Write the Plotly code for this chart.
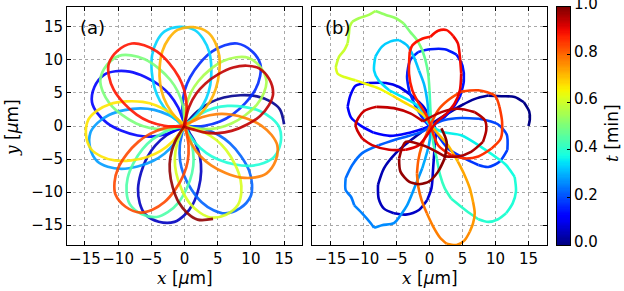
import numpy as np
import plotly.graph_objects as go

# ---------------- panel (a): petals ----------------
# petal axis direction (deg) and tip distance, in time order
petal_angle = [1, -105, 156.5, 48.5, -56, -167, 93, -10, -116, 142, 38, -65, -175, 85, -21, -126, 131.5, 29, -73]
petal_len = [15.0, 15.0, 14.8, 15.2, 15.0, 14.6, 15.0, 14.7, 14.8, 14.9, 14.5, 14.8, 14.9, 15.0, 14.7, 15.1, 15.2, 14.6, 14.7]
# petal outline (read from the top orange petal), along / across its axis
petal_u = [0, 1, 2, 4, 6, 8.5, 11, 13, 14.4, 15, 14.4, 13, 11, 8.5, 6, 4, 2, 1, 0]
petal_v = [0, -1.2, -2.2, -3.5, -4.2, -4.5, -4.3, -3.5, -2.3, 0, 2.3, 3.5, 4.3, 4.5, 4.2, 3.5, 2.2, 1.2, 0]

# ---------------- panel (b): trajectory ----------------
bx = [15.0, 15.2, 15.1, 14.3, 12.9, 10.9, 8.9, 6.9, 4.8, 2.3, 0.3,
      -1.2, -2.9, -5.1, -6.9, -7.8, -7.7, -6.9, -5.4, -3.6, -1.6, -0.35, 0.3, 0.55, 0.8, 0.9,
      -0.9, -2.6, -4.6, -6.6, -9.2, -11.2, -12.0, -12.4, -11.9, -10.5, -8.5, -6.0, -3.4, -1.0,
      1.3, 3.3, 4.6, 5.2, 5.0, 4.1, 2.3, 0.1, -1.7, -2.9, -3.4, -3.0, -1.9, -0.6,
      1.0, 2.8, 5.3, 7.4, 8.9, 10.6, 11.8, 11.7, 10.3, 7.5, 4.8, 2.3, 0.5,
      -1.1, -4.6, -7.7, -10.2, -11.7, -12.7, -12.7, -11.9, -11.4, -10.2, -8.9, -8.4, -7.2, -5.4, -4.4, -3.4, -2.1, -1.1, -0.1, 0.15,
      -0.1, -0.35, -0.85, -1.6, -2.4, -3.4, -4.6, -5.9, -7.2, -8.2, -8.4, -7.7, -6.1, -4.1, -1.6, -0.3,
      1.8, 4.8, 7.4, 9.9, 11.6, 12.9, 13.1, 12.6, 11.6, 10.4, 8.9, 7.4, 6.1, 4.8, 3.3, 2.3, 1.6, 1.1, 0.55,
      0.2, 0.0, -0.2, -0.6, -1.1, -1.9, -2.9, -3.9, -5.1, -6.6, -8.2, -9.2, -10.7, -11.7, -12.1, -12.2, -12.4, -12.9, -13.7, -14.2, -13.9, -12.9, -11.2, -9.7, -7.7, -5.6, -3.9, -2.1, -0.6,
      0.8, 2.8, 4.3, 5.3, 6.1, 6.6, 6.85, 6.6, 6.1, 5.3, 4.1, 2.6, 1.6, 0.6, -0.4, -1.2, -1.7, -1.9, -1.7, -1.2, -0.4,
      1.3, 2.8, 4.8, 7.4, 9.9, 10.6, 11.0, 10.8, 9.4, 7.4, 5.3, 3.3, 1.3,
      -0.35, -1.6, -2.6, -3.1, -3.0, -2.6, -1.1, 0.15, 1.3, 2.6, 3.6, 4.3, 4.6, 4.8, 4.6, 3.8, 2.6, 1.0,
      -1.6, -3.6, -6.1, -8.7, -10.2, -11.2, -10.0, -8.0, -5.4, -2.9, -1.0,
      1.8, 4.3, 6.85, 8.4, 8.6, 8.1, 6.3, 4.3, 2.3,
      -0.8, -3.6, -4.6, -4.4, -3.1, -1.6, -0.1, 1.3, 2.3, 2.6, 1.8]
by = [0.0, 1.0, 2.2, 3.6, 4.4, 4.5, 4.6, 4.1, 3.1, 1.6, 0.3,
      -0.9, -2.2, -4.1, -6.4, -8.9, -11.0, -12.5, -13.2, -13.4, -12.7, -11.2, -9.4, -6.4, -2.9, -0.5,
      2.9, 4.5, 5.9, 6.5, 6.5, 6.1, 4.6, 2.9, 1.3, 0.1, -1.0, -1.5, -1.1, -0.4,
      0.6, 2.4, 4.4, 6.8, 9.1, 10.8, 11.6, 11.6, 11.2, 10.0, 7.5, 5.0, 2.6, 0.6,
      -1.0, -3.4, -4.9, -5.9, -6.2, -5.4, -3.6, -1.3, 0.3, 1.1, 1.2, 0.9, 0.2,
      -0.85, -1.9, -2.9, -4.1, -5.9, -7.9, -9.7, -10.7, -12.0, -13.2, -14.7, -15.4, -15.0, -14.7, -13.5, -12.0, -8.9, -6.4, -2.9, -0.85,
      1.4, 3.9, 6.4, 8.4, 10.5, 12.2, 13.0, 12.8, 12.0, 10.5, 8.4, 6.9, 5.4, 4.4, 2.9, 0.5,
      -0.85, -1.4, -2.9, -4.6, -5.9, -7.7, -9.9, -11.7, -13.2, -14.1, -14.5, -14.1, -13.2, -12.2, -11.0, -9.4, -7.4, -4.9, -2.4,
      1.4, 5.4, 7.9, 9.9, 11.5, 13.0, 14.2, 15.5, 16.3, 16.8, 17.4, 16.8, 16.3, 15.8, 15.0, 14.0, 12.5, 11.5, 10.5, 8.9, 7.9, 7.4, 6.9, 6.4, 5.7, 4.6, 3.6, 2.6, 1.4,
      -0.6, -2.9, -5.4, -7.4, -9.4, -11.5, -13.2, -14.7, -16.0, -17.3, -18.0, -17.8, -16.9, -15.3, -13.2, -11.2, -9.2, -7.2, -5.2, -3.1, -1.1,
      2.4, 3.9, 5.2, 5.4, 4.6, 2.9, 0.6, -1.9, -3.4, -4.6, -4.9, -4.4, -2.9,
      1.4, 3.4, 5.4, 7.9, 11.2, 12.2, 13.2, 13.5, 14.4, 14.5, 13.6, 12.5, 10.5, 7.9, 5.4, 3.4, 1.9, 0.5,
      -2.9, -3.6, -3.6, -2.9, -1.9, 0.15, 2.2, 2.9, 2.7, 1.9, 0.7,
      2.1, 2.6, 2.1, 0.85, -0.6, -2.4, -3.9, -4.6, -4.6,
      -3.0, -2.4, -4.9, -6.9, -8.4, -8.8, -8.4, -6.9, -4.9, -2.4, -0.35]
b_loop_start = [0, 11, 26, 40, 54, 67, 87, 103, 122, 151, 172, 185, 203, 214, 223, 233]
b_loop_t = [0.0, 0.035, 0.085, 0.13, 0.17, 0.21, 0.30, 0.36, 0.43, 0.71, 0.83, 0.875, 0.92, 0.95, 0.97, 1.0]

tick_vals = [-15, -10, -5, 0, 5, 10, 15]
tick_text = ["\u221215", "\u221210", "\u22125", "0", "5", "10", "15"]
cbar_vals = [0.0, 0.2, 0.4, 0.6, 0.8, 1.0]
cbar_text = ["0.0", "0.2", "0.4", "0.6", "0.8", "1.0"]


def jet(t):
    r = np.interp(t, [0, 0.35, 0.66, 0.89, 1], [0, 0, 1, 1, 0.5])
    g = np.interp(t, [0, 0.125, 0.375, 0.64, 0.91, 1], [0, 0, 1, 1, 0, 0])
    b = np.interp(t, [0, 0.11, 0.34, 0.65, 1], [0.5, 1, 1, 0, 0])
    return "rgb(%d,%d,%d)" % (round(r * 255), round(g * 255), round(b * 255))


fig = go.Figure()

# panel (a)
n_p = len(petal_angle)
pu = np.array(petal_u)
pv = np.array(petal_v)
for k in range(n_p):
    c = np.deg2rad(petal_angle[k])
    s = petal_len[k] / 15.0
    xs = s * (pu * np.cos(c) - pv * np.sin(c))
    ys = s * (pu * np.sin(c) + pv * np.cos(c))
    if k == 0:
        xs, ys = xs[9:], ys[9:]
        tm = 0.25 / 18
    elif k == n_p - 1:
        xs, ys = xs[:10], ys[:10]
        tm = 1 - 0.25 / 18
    else:
        tm = k / 18
    fig.add_trace(go.Scatter(x=xs, y=ys, mode="lines",
                             line=dict(color=jet(tm), width=2.7, shape="spline", smoothing=1.0),
                             opacity=0.9, hoverinfo="skip", showlegend=False,
                             xaxis="x", yaxis="y"))

# panel (b)
bxa = np.array(bx)
bya = np.array(by)
seglen = np.hypot(np.diff(bxa), np.diff(bya))
sarc = np.concatenate([[0], np.cumsum(seglen)])
n = len(bxa)
tb = np.interp(sarc, sarc[np.array(b_loop_start)], np.array(b_loop_t))
step = 3
for i in range(0, n - 1, step):
    j = min(i + step + 1, n)
    fig.add_trace(go.Scatter(x=bxa[i:j], y=bya[i:j], mode="lines",
                             line=dict(color=jet(tb[i:j].mean()), width=2.6, shape="spline", smoothing=0.8),
                             hoverinfo="skip", showlegend=False,
                             xaxis="x2", yaxis="y2"))

# colorbar drawn as a thin heatmap on its own axes
cb_vals = np.linspace(0, 1, 201)
cs = [[v, jet(v)] for v in np.linspace(0, 1, 41)]
fig.add_trace(go.Heatmap(z=cb_vals.reshape(-1, 1), x=[0.5], y=cb_vals, colorscale=cs, zmin=0, zmax=1,
                         showscale=False, hoverinfo="skip", xaxis="x3", yaxis="y3"))

ydom = [(291 - 245) / 291, (291 - 7) / 291]
axis_common = dict(showline=True, linecolor="black", linewidth=1, mirror="allticks",
                   ticks="inside", ticklen=4, tickcolor="black", automargin=False,
                   ticklabeloverflow="allow",
                   showgrid=True, gridcolor="#a8a8a8", gridwidth=1, griddash="3px,3px",
                   zeroline=False, tickvals=tick_vals, ticktext=tick_text, tickangle=0,
                   tickfont=dict(family="DejaVu Sans", size=15, color="black"))

fig.update_layout(
    width=624, height=291, autosize=False,
    margin=dict(l=0, r=0, t=0, b=0, autoexpand=False),
    paper_bgcolor="white", plot_bgcolor="white",
    xaxis=dict(domain=[67 / 624, 302 / 624], range=[-17.7, 17.7], anchor="y", **axis_common),
    yaxis=dict(domain=ydom, range=[-18, 18], anchor="x", **axis_common),
    xaxis2=dict(domain=[312 / 624, 547 / 624], range=[-17.8, 17.8], anchor="y2", **axis_common),
    yaxis2=dict(domain=ydom, range=[-18, 18], anchor="x2", showticklabels=False,
                **{k: v for k, v in axis_common.items() if k not in ("tickfont",)}),
    xaxis3=dict(domain=[557 / 624, 570 / 624], range=[0, 1], anchor="y3", showticklabels=False,
                ticks="", showgrid=False, zeroline=False, showline=True, linecolor="black",
                linewidth=1, mirror=True, automargin=False),
    yaxis3=dict(domain=ydom, range=[-0.0005, 1.0005], anchor="x3", side="right", showgrid=False,
                zeroline=False, showline=True, linecolor="black", linewidth=1, mirror=True,
                automargin=False, ticklabeloverflow="allow", ticklabelshift=-3,
                tickvals=cbar_vals, ticktext=cbar_text, ticks="inside",
                ticklen=3, tickcolor="black",
                tickfont=dict(family="DejaVu Sans", size=15, color="black")),
)

xlab = '<span style="font-family:\'DejaVu Serif\'"><i>x</i></span> [<i>\u03bc</i>m]'
ylab = '<span style="font-family:\'DejaVu Serif\'"><i>y</i></span> [<i>\u03bc</i>m]'
tlab = '<span style="font-family:\'DejaVu Serif\'"><i>t</i></span> [min]'


def ann(text, px, py, size=17, angle=0):
    return dict(text=text, x=px / 624, y=1 - py / 291, xref="paper", yref="paper", showarrow=False,
                xanchor="center", yanchor="middle", textangle=angle,
                font=dict(family="DejaVu Sans", size=size, color="black"))


annotations = [
    ann("(a)", 92, 27, 18),
    ann("(b)", 337, 27, 18),
    ann(xlab, 185, 278),
    ann(xlab, 430, 278),
    ann(ylab, 12, 128, angle=-90),
    ann(tlab, 612, 133, angle=-90),
]
fig.update_layout(annotations=annotations)

fig.write_html("out.html", config={"displayModeBar": False, "staticPlot": True},
               post_script="document.body.style.margin='0';document.body.style.padding='0';"
                           "document.body.style.overflow='hidden';")
